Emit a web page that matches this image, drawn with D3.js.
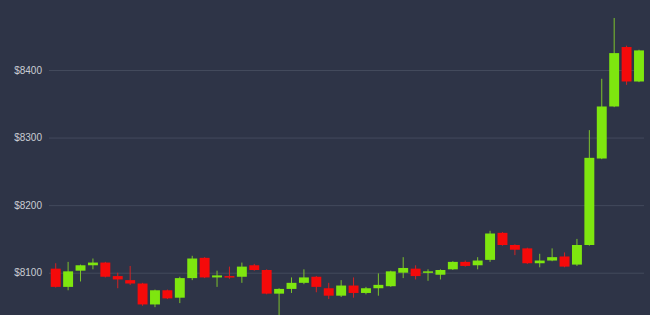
<!DOCTYPE html>
<html>
<head>
<meta charset="utf-8">
<script src="https://cdnjs.cloudflare.com/ajax/libs/d3/7.8.5/d3.min.js"></script>
<style>
  html, body { margin: 0; padding: 0; background: #2e3447; }
  #chart { width: 650px; height: 315px; overflow: hidden; }
</style>
</head>
<body>
<div id="chart"></div>
<script>
// candle values (USD)
var opens  = [8106, 8079, 8103, 8111, 8115, 8095, 8089, 8084, 8053, 8074,
              8063, 8092, 8122, 8093, 8095, 8094, 8111, 8104, 8069, 8076,
              8085, 8094, 8077, 8066, 8081, 8070, 8077, 8080, 8100, 8106,
              8101, 8097, 8105, 8116, 8111, 8119, 8159, 8141, 8136, 8114,
              8118, 8124, 8112, 8141, 8269, 8346, 8434, 8383];
var closes = [8079, 8102, 8111, 8115, 8094, 8090, 8084, 8053, 8074, 8062,
              8092, 8121, 8093, 8096, 8093, 8109, 8104, 8069, 8076, 8085,
              8093, 8079, 8066, 8081, 8070, 8077, 8082, 8102, 8107, 8095,
              8102, 8104, 8116, 8110, 8118, 8158, 8141, 8134, 8114, 8118,
              8123, 8109, 8141, 8270, 8346, 8425, 8383, 8429];
var highs  = [8114, 8116, 8112, 8121, 8116, 8100, 8110, 8085, 8075, 8075,
              8094, 8125, 8123, 8103, 8109, 8115, 8113, 8105, 8077, 8093,
              8105, 8095, 8085, 8089, 8093, 8079, 8099, 8103, 8123, 8111,
              8105, 8105, 8117, 8118, 8123, 8162, 8160, 8142, 8137, 8128,
              8136, 8130, 8150, 8311, 8387, 8477, 8436, 8430];
var lows   = [8078, 8074, 8087, 8105, 8093, 8077, 8082, 8051, 8049, 8061,
              8055, 8089, 8092, 8079, 8091, 8085, 8103, 8068, 8030, 8070,
              8083, 8071, 8061, 8064, 8063, 8068, 8066, 8079, 8092, 8090,
              8088, 8090, 8104, 8109, 8105, 8116, 8140, 8126, 8113, 8108,
              8117, 8108, 8110, 8140, 8268, 8345, 8378, 8382];
var yTicks = [8100, 8200, 8300, 8400];

var width = 650, height = 315;

var svg = d3.select("#chart").append("svg")
    .attr("width", width)
    .attr("height", height);

svg.append("rect")
    .attr("width", width).attr("height", height)
    .attr("fill", "#2e3447");

var x = d3.scaleBand()
    .domain(d3.range(opens.length))
    .range([49.5, 645.2])
    .paddingInner(0.2)
    .paddingOuter(0.1);

var y = d3.scaleLinear()
    .domain([8100, 8400])
    .range([272.7, 70]);

// grid + labels
var yAxis = svg.append("g")
    .attr("transform", "translate(49,0)")
    .call(d3.axisLeft(y).tickValues(yTicks).tickSize(-595).tickPadding(7)
        .tickFormat(function (d) { return "$" + d; }));
yAxis.select(".domain").remove();
yAxis.selectAll(".tick line").attr("stroke", "#434a5c").attr("stroke-width", 1);
yAxis.selectAll(".tick text")
    .attr("fill", "#c9ccd3")
    .style("font-family", "'Liberation Sans', Arial, sans-serif")
    .style("font-size", "10px");

var candles = d3.range(opens.length).map(function (i) {
    return { i: i, o: opens[i], c: closes[i], h: highs[i], l: lows[i] };
});

function col(d) { return d.c >= d.o ? "#7ee60f" : "#f50a0a"; }

var g = svg.append("g");

g.selectAll("line.wick")
    .data(candles)
    .enter().append("line")
    .attr("class", "wick")
    .attr("x1", function (d) { return x(d.i) + x.bandwidth() / 2; })
    .attr("x2", function (d) { return x(d.i) + x.bandwidth() / 2; })
    .attr("y1", function (d) { return y(d.h); })
    .attr("y2", function (d) { return y(d.l); })
    .attr("stroke", function (d) { return d.c >= d.o ? "#7cc22c" : "#d42222"; })
    .attr("stroke-width", 1);

g.selectAll("rect.body")
    .data(candles)
    .enter().append("rect")
    .attr("class", "body")
    .attr("x", function (d) { return x(d.i); })
    .attr("y", function (d) { return y(Math.max(d.o, d.c)); })
    .attr("width", x.bandwidth())
    .attr("height", function (d) { return Math.max(1.5, Math.abs(y(d.o) - y(d.c))); })
    .attr("fill", col);
</script>
</body>
</html>
